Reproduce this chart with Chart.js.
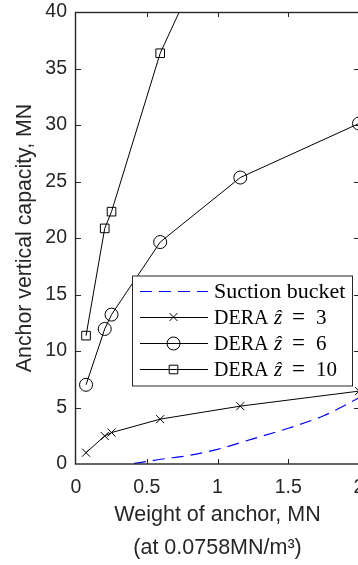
<!DOCTYPE html>
<html>
<head>
<meta charset="utf-8">
<script src="https://cdn.jsdelivr.net/npm/chart.js@4.4.0/dist/chart.umd.min.js"></script>
<style>
  html, body { margin: 0; padding: 0; background: #fff; overflow: hidden; }
  #wrap { position: relative; width: 359px; height: 565px; }
</style>
</head>
<body>
<div id="wrap"><canvas id="anchorChart"></canvas></div>
<script>
// Values
const weights = [0.071, 0.203, 0.251, 0.595, 1.161, 2.0];
const deraZ3 = [1.0, 2.48, 2.78, 3.97, 5.12, 6.45];
const deraZ6 = [7.01, 11.95, 13.22, 19.64, 25.35, 30.13];
const deraZ10 = [11.36, 20.85, 22.33, 36.35, 51.7];
const bucketWeights = [0.41, 0.5, 0.6, 0.8, 1.0, 1.25, 1.5, 1.75, 2.0];
const bucketCapacity = [0.05, 0.22, 0.42, 0.76, 1.3, 2.23, 3.16, 4.27, 5.85];
const xTicks = [0, 0.5, 1, 1.5, 2];
const yTicks = [0, 5, 10, 15, 20, 25, 30, 35, 40];
const legendLabels = ['Suction bucket', 'DERA', 'DERA', 'DERA'];
const legendZ = [null, '3', '6', '10'];

const AXIS = '#262626';
const SANS = '"Liberation Sans", Arial, sans-serif';
const SERIF = '"Liberation Serif", "DejaVu Serif", serif';

const pairs = (xs, ys) => ys.map((y, i) => ({ x: xs[i], y: y }));

// MATLAB-style box with inward ticks, plus the boxed legend
const boxPlugin = {
    id: 'boxPlugin',
    afterDatasetsDraw(chart) {
        const { ctx, chartArea: a, scales: { x, y } } = chart;
        ctx.save();
        ctx.strokeStyle = AXIS;
        ctx.lineWidth = 1;
        ctx.beginPath();
        xTicks.slice(1, -1).forEach(v => {
            const px = Math.round(x.getPixelForValue(v)) + 0.5;
            ctx.moveTo(px, a.bottom); ctx.lineTo(px, a.bottom - 5);
            ctx.moveTo(px, a.top); ctx.lineTo(px, a.top + 5);
        });
        yTicks.slice(1, -1).forEach(v => {
            const py = Math.round(y.getPixelForValue(v)) + 0.5;
            ctx.moveTo(a.left, py); ctx.lineTo(a.left + 5, py);
            ctx.moveTo(a.right, py); ctx.lineTo(a.right - 5, py);
        });
        ctx.stroke();
        ctx.lineWidth = 1.4;
        ctx.strokeRect(a.left - 0.5, a.top + 0.5, a.right - a.left + 1, a.bottom - a.top - 0.5);

        // legend
        const lx = 132.5, ly = 276, lw = 220, lh = 110;
        ctx.fillStyle = '#fff';
        ctx.fillRect(lx, ly, lw, lh);
        ctx.lineWidth = 1;
        ctx.strokeStyle = AXIS;
        ctx.strokeRect(lx, ly, lw, lh);

        const rows = [291, 317, 343, 369];
        const mx = 173.5;
        rows.forEach((ry, i) => {
            ctx.beginPath();
            if (i === 0) {
                ctx.strokeStyle = '#0000ff';
                ctx.lineWidth = 1.2;
                ctx.setLineDash([12, 7]);
            } else {
                ctx.strokeStyle = '#000';
                ctx.lineWidth = 1;
                ctx.setLineDash([]);
            }
            ctx.moveTo(140, ry + 0.5); ctx.lineTo(208, ry + 0.5);
            ctx.stroke();
            ctx.setLineDash([]);
            ctx.beginPath();
            if (i === 1) {
                ctx.moveTo(mx - 4, ry - 4); ctx.lineTo(mx + 4, ry + 4);
                ctx.moveTo(mx - 4, ry + 4); ctx.lineTo(mx + 4, ry - 4);
            } else if (i === 2) {
                ctx.arc(mx, ry + 0.5, 6.5, 0, Math.PI * 2);
            } else if (i === 3) {
                ctx.rect(mx - 4.3, ry - 3.8, 8.6, 8.6);
            }
            ctx.stroke();

            ctx.fillStyle = '#000';
            ctx.textBaseline = 'alphabetic';
            ctx.textAlign = 'left';
            ctx.font = (i === 0 ? '22px ' : '20px ') + SERIF;
            ctx.fillText(legendLabels[i], 214, ry + 7);
            if (legendZ[i]) {
                ctx.font = 'italic 21px ' + SERIF;
                ctx.fillText('\u1E91', 274, ry + 7);
                ctx.font = '23px ' + SERIF;
                ctx.fillText('=', 292, ry + 7);
                ctx.font = '21px ' + SERIF;
                ctx.fillText(legendZ[i], 316, ry + 7);
            }
        });
        ctx.restore();
    }
};

const ctx = document.getElementById('anchorChart').getContext('2d');
new Chart(ctx, {
    type: 'line',
    data: {
        datasets: [
            {
                label: 'Suction bucket',
                data: pairs(bucketWeights, bucketCapacity),
                borderColor: '#0000ff',
                borderWidth: 1.2,
                borderDash: [12, 7],
                pointRadius: 0,
                cubicInterpolationMode: 'monotone'
            },
            {
                label: 'DERA z=3',
                data: pairs(weights, deraZ3),
                borderColor: '#000',
                borderWidth: 1,
                pointStyle: 'crossRot',
                pointRadius: 5.7,
                pointBorderColor: '#000',
                pointBorderWidth: 1
            },
            {
                label: 'DERA z=6',
                data: pairs(weights, deraZ6),
                borderColor: '#000',
                borderWidth: 1,
                pointStyle: 'circle',
                pointRadius: 6.5,
                pointBackgroundColor: 'rgba(0,0,0,0)',
                pointBorderColor: '#000',
                pointBorderWidth: 1
            },
            {
                label: 'DERA z=10',
                data: pairs(weights, deraZ10),
                borderColor: '#000',
                borderWidth: 1,
                pointStyle: 'rect',
                pointRadius: 6.1,
                pointBackgroundColor: 'rgba(0,0,0,0)',
                pointBorderColor: '#000',
                pointBorderWidth: 1
            }
        ]
    },
    options: {
        responsive: true,
        maintainAspectRatio: false,
        animation: false,
        layout: { autoPadding: false, padding: { top: 12, left: 0, right: 0, bottom: 0 } },
        plugins: {
            legend: { display: false },
            tooltip: { enabled: false }
        },
        scales: {
            x: {
                type: 'linear',
                min: 0,
                max: 2,
                afterFit(s) { s.height = 101; s.paddingLeft = 0; s.paddingRight = 0; },
                afterBuildTicks(s) { s.ticks = xTicks.map(v => ({ value: v })); },
                grid: { display: false, drawTicks: false },
                border: { display: false },
                ticks: {
                    color: AXIS,
                    padding: 12,
                    maxRotation: 0,
                    autoSkip: false,
                    callback: v => String(v),
                    font: { family: SANS, size: 19.5 }
                },
                title: {
                    display: true,
                    text: ['Weight of anchor, MN', '(at 0.0758MN/m\u00B3)'],
                    color: AXIS,
                    padding: { top: 0, bottom: 0 },
                    font: { family: SANS, size: 21.5, lineHeight: 1.535 }
                }
            },
            y: {
                type: 'linear',
                min: 0,
                max: 40,
                afterFit(s) { s.width = 76; s.paddingTop = 0; s.paddingBottom = 0; },
                afterBuildTicks(s) { s.ticks = yTicks.map(v => ({ value: v })); },
                grid: { display: false, drawTicks: false },
                border: { display: false },
                ticks: {
                    color: AXIS,
                    padding: 9,
                    autoSkip: false,
                    callback: v => String(v),
                    font: { family: SANS, size: 19.5 }
                },
                title: {
                    display: true,
                    text: 'Anchor vertical capacity, MN',
                    color: AXIS,
                    padding: { top: 12.5, bottom: 0 },
                    font: { family: SANS, size: 21.3, lineHeight: 1.2 }
                }
            }
        }
    },
    plugins: [boxPlugin]
});
</script>
</body>
</html>
